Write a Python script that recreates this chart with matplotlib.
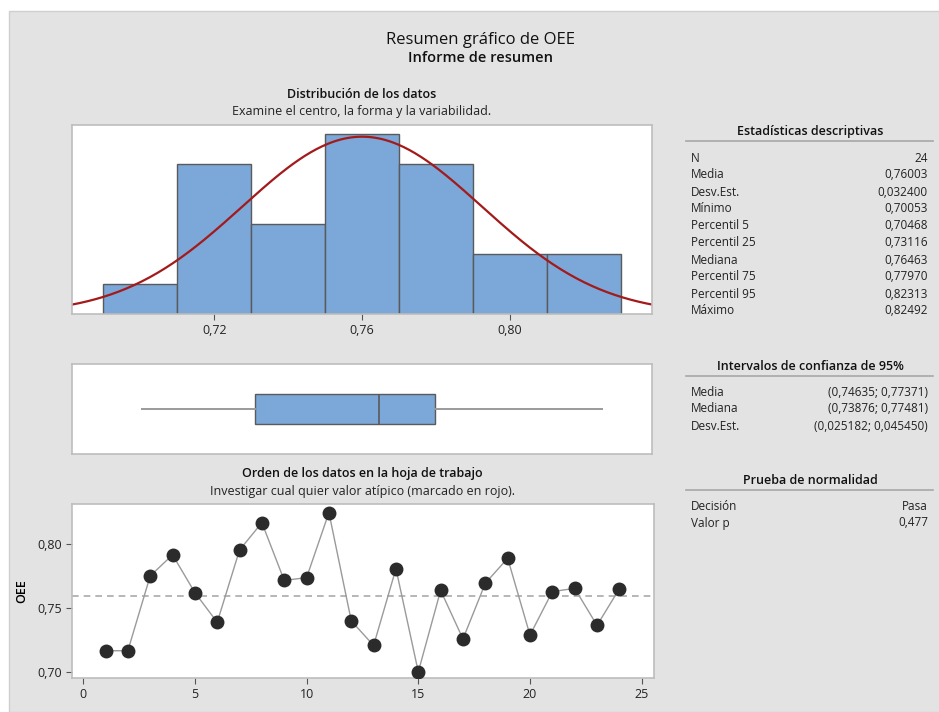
import numpy as np
import matplotlib
matplotlib.use('Agg')
import matplotlib.pyplot as plt
from matplotlib.patches import Rectangle

plt.rcParams['font.family'] = ['Open Sans', 'DejaVu Sans']

# OEE observations in worksheet order
obs = np.arange(1, 25)
oee = [0.7170, 0.7170, 0.7754, 0.7919, 0.7624, 0.7392, 0.7957, 0.8170,
       0.7719, 0.7741, 0.8249, 0.7403, 0.7211, 0.7811, 0.7005, 0.7641,
       0.7262, 0.7697, 0.7892, 0.7292, 0.7632, 0.7657, 0.7368, 0.7654]

bin_edges = [0.69, 0.71, 0.73, 0.75, 0.77, 0.79, 0.81, 0.83]
hist_ticks = [0.72, 0.76, 0.80]

# summary statistics
n_obs = 24
mean = 0.76003
stdev = 0.032400
minimum = 0.70053
q1 = 0.73116
median = 0.76463
q3 = 0.77970
maximum = 0.82492

desc_labels = ['N', 'Media', 'Desv.Est.', 'Mínimo', 'Percentil 5', 'Percentil 25',
               'Mediana', 'Percentil 75', 'Percentil 95', 'Máximo']
desc_values = ['24', '0,76003', '0,032400', '0,70053', '0,70468', '0,73116',
               '0,76463', '0,77970', '0,82313', '0,82492']
ci_labels = ['Media', 'Mediana', 'Desv.Est.']
ci_values = ['(0,74635; 0,77371)', '(0,73876; 0,77481)', '(0,025182; 0,045450)']
norm_labels = ['Decisión', 'Valor p']
norm_values = ['Pasa', '0,477']

W, H = 939, 712
BG = '#e3e3e3'
FILL = '#7ba7d9'
EDGE = '#5a5a5a'
SPINE = '#bdbdbd'


def rect(l, t, r, b):
    return [l / W, 1 - b / H, (r - l) / W, (b - t) / H]


def comma(x, pos=None):
    return f'{x:.2f}'.replace('.', ',')


def style(ax):
    for s in ax.spines.values():
        s.set_color(SPINE)
        s.set_linewidth(1.2)
    ax.tick_params(colors='#555555', labelcolor='#222222', labelsize=9,
                   length=4, width=0.8)


fig = plt.figure(figsize=(W / 100, H / 100), dpi=100)
fig.patch.set_facecolor('white')
fig.patches.append(Rectangle((9 / W, 0), 1, 1 - 11 / H, transform=fig.transFigure,
                             facecolor=BG, edgecolor='#cfcfcf', lw=1, zorder=-10))

fig.text(480 / W, 1 - 40 / H, 'Resumen gráfico de OEE', ha='center', va='center',
         fontsize=12, color='#111111')
fig.text(480 / W, 1 - 58 / H, 'Informe de resumen', ha='center', va='center',
         fontsize=10.5, fontweight='semibold', color='#111111')

xlim = (0.6815, 0.8385)

# histogram with fitted normal curve
ax1 = fig.add_axes(rect(72, 125, 652, 314))
ax1.hist(oee, bins=bin_edges, color=FILL, edgecolor=EDGE, linewidth=1)
xs = np.linspace(xlim[0], xlim[1], 300)
pdf = np.exp(-0.5 * ((xs - mean) / stdev) ** 2) / (stdev * np.sqrt(2 * np.pi))
ax1.plot(xs, pdf * n_obs * 0.02, color='#a31a1a', lw=1.6)
ax1.set_xlim(xlim)
ax1.set_ylim(0, 6.3)
ax1.set_yticks([])
ax1.set_xticks(hist_ticks)
ax1.xaxis.set_major_formatter(comma)
style(ax1)
fig.text(362 / W, 1 - 95 / H, 'Distribución de los datos', ha='center', va='center',
         fontsize=9, fontweight='semibold', color='#111111')
fig.text(362 / W, 1 - 112 / H, 'Examine el centro, la forma y la variabilidad.',
         ha='center', va='center', fontsize=9, color='#222222')

# boxplot drawn from the tabulated quartiles
ax2 = fig.add_axes(rect(72, 364, 652, 454))
ax2.bxp([{'whislo': minimum, 'q1': q1, 'med': median, 'q3': q3,
          'whishi': maximum, 'fliers': []}],
        vert=False, widths=0.40, showcaps=False, patch_artist=True,
        boxprops=dict(facecolor=FILL, edgecolor=EDGE, lw=1),
        medianprops=dict(color=EDGE, lw=1.2),
        whiskerprops=dict(color='#9a9a9a', lw=1.4))
ax2.set_xlim(xlim)
ax2.set_ylim(0.4, 1.6)
ax2.invert_yaxis()
ax2.set_xticks([])
ax2.set_yticks([])
style(ax2)

# individual values in worksheet order
ax3 = fig.add_axes(rect(72, 504, 654, 678))
ax3.plot(obs, oee, color='#9a9a9a', lw=1, marker='o', markersize=9,
         markerfacecolor='#2b2b2b', markeredgecolor='#2b2b2b', zorder=3)
ax3.axhline(mean, color='#aaaaaa', lw=1.2, ls=(0, (4, 3)), zorder=1)
ax3.set_xlim(-0.5, 25.55)
ax3.set_ylim(0.6957, 0.8316)
ax3.set_xticks([0, 5, 10, 15, 20, 25])
ax3.set_yticks([0.70, 0.75, 0.80])
ax3.yaxis.set_major_formatter(comma)
ax3.set_ylabel('OEE', fontsize=9, fontweight='semibold', labelpad=6)
style(ax3)
fig.text(362 / W, 1 - 474 / H, 'Orden de los datos en la hoja de trabajo', ha='center',
         va='center', fontsize=9, fontweight='semibold', color='#111111')
fig.text(362 / W, 1 - 491 / H, 'Investigar cual quier valor atípico (marcado en rojo).',
         ha='center', va='center', fontsize=9, color='#222222')


def table(header, header_y, labels, values, first_y, step=17):
    fig.text(810 / W, 1 - header_y / H, header, ha='center', va='center',
             fontsize=9, fontweight='semibold', color='#111111')
    fig.add_artist(plt.Line2D([686 / W, 933 / W], [1 - (header_y + 9) / H] * 2,
                              color='#a8a8a8', lw=1.2))
    for i, (lab, val) in enumerate(zip(labels, values)):
        y = 1 - (first_y + i * step) / H
        fig.text(691 / W, y, lab, ha='left', va='center', fontsize=8.5, color='#222222')
        fig.text(928 / W, y, val, ha='right', va='center', fontsize=8.5, color='#222222')


table('Estadísticas descriptivas', 132, desc_labels, desc_values, 158)
table('Intervalos de confianza de 95%', 367, ci_labels, ci_values, 392, 17)
table('Prueba de normalidad', 481, norm_labels, norm_values, 507, 16)

fig.savefig('out.png', dpi=100, facecolor=fig.get_facecolor())
